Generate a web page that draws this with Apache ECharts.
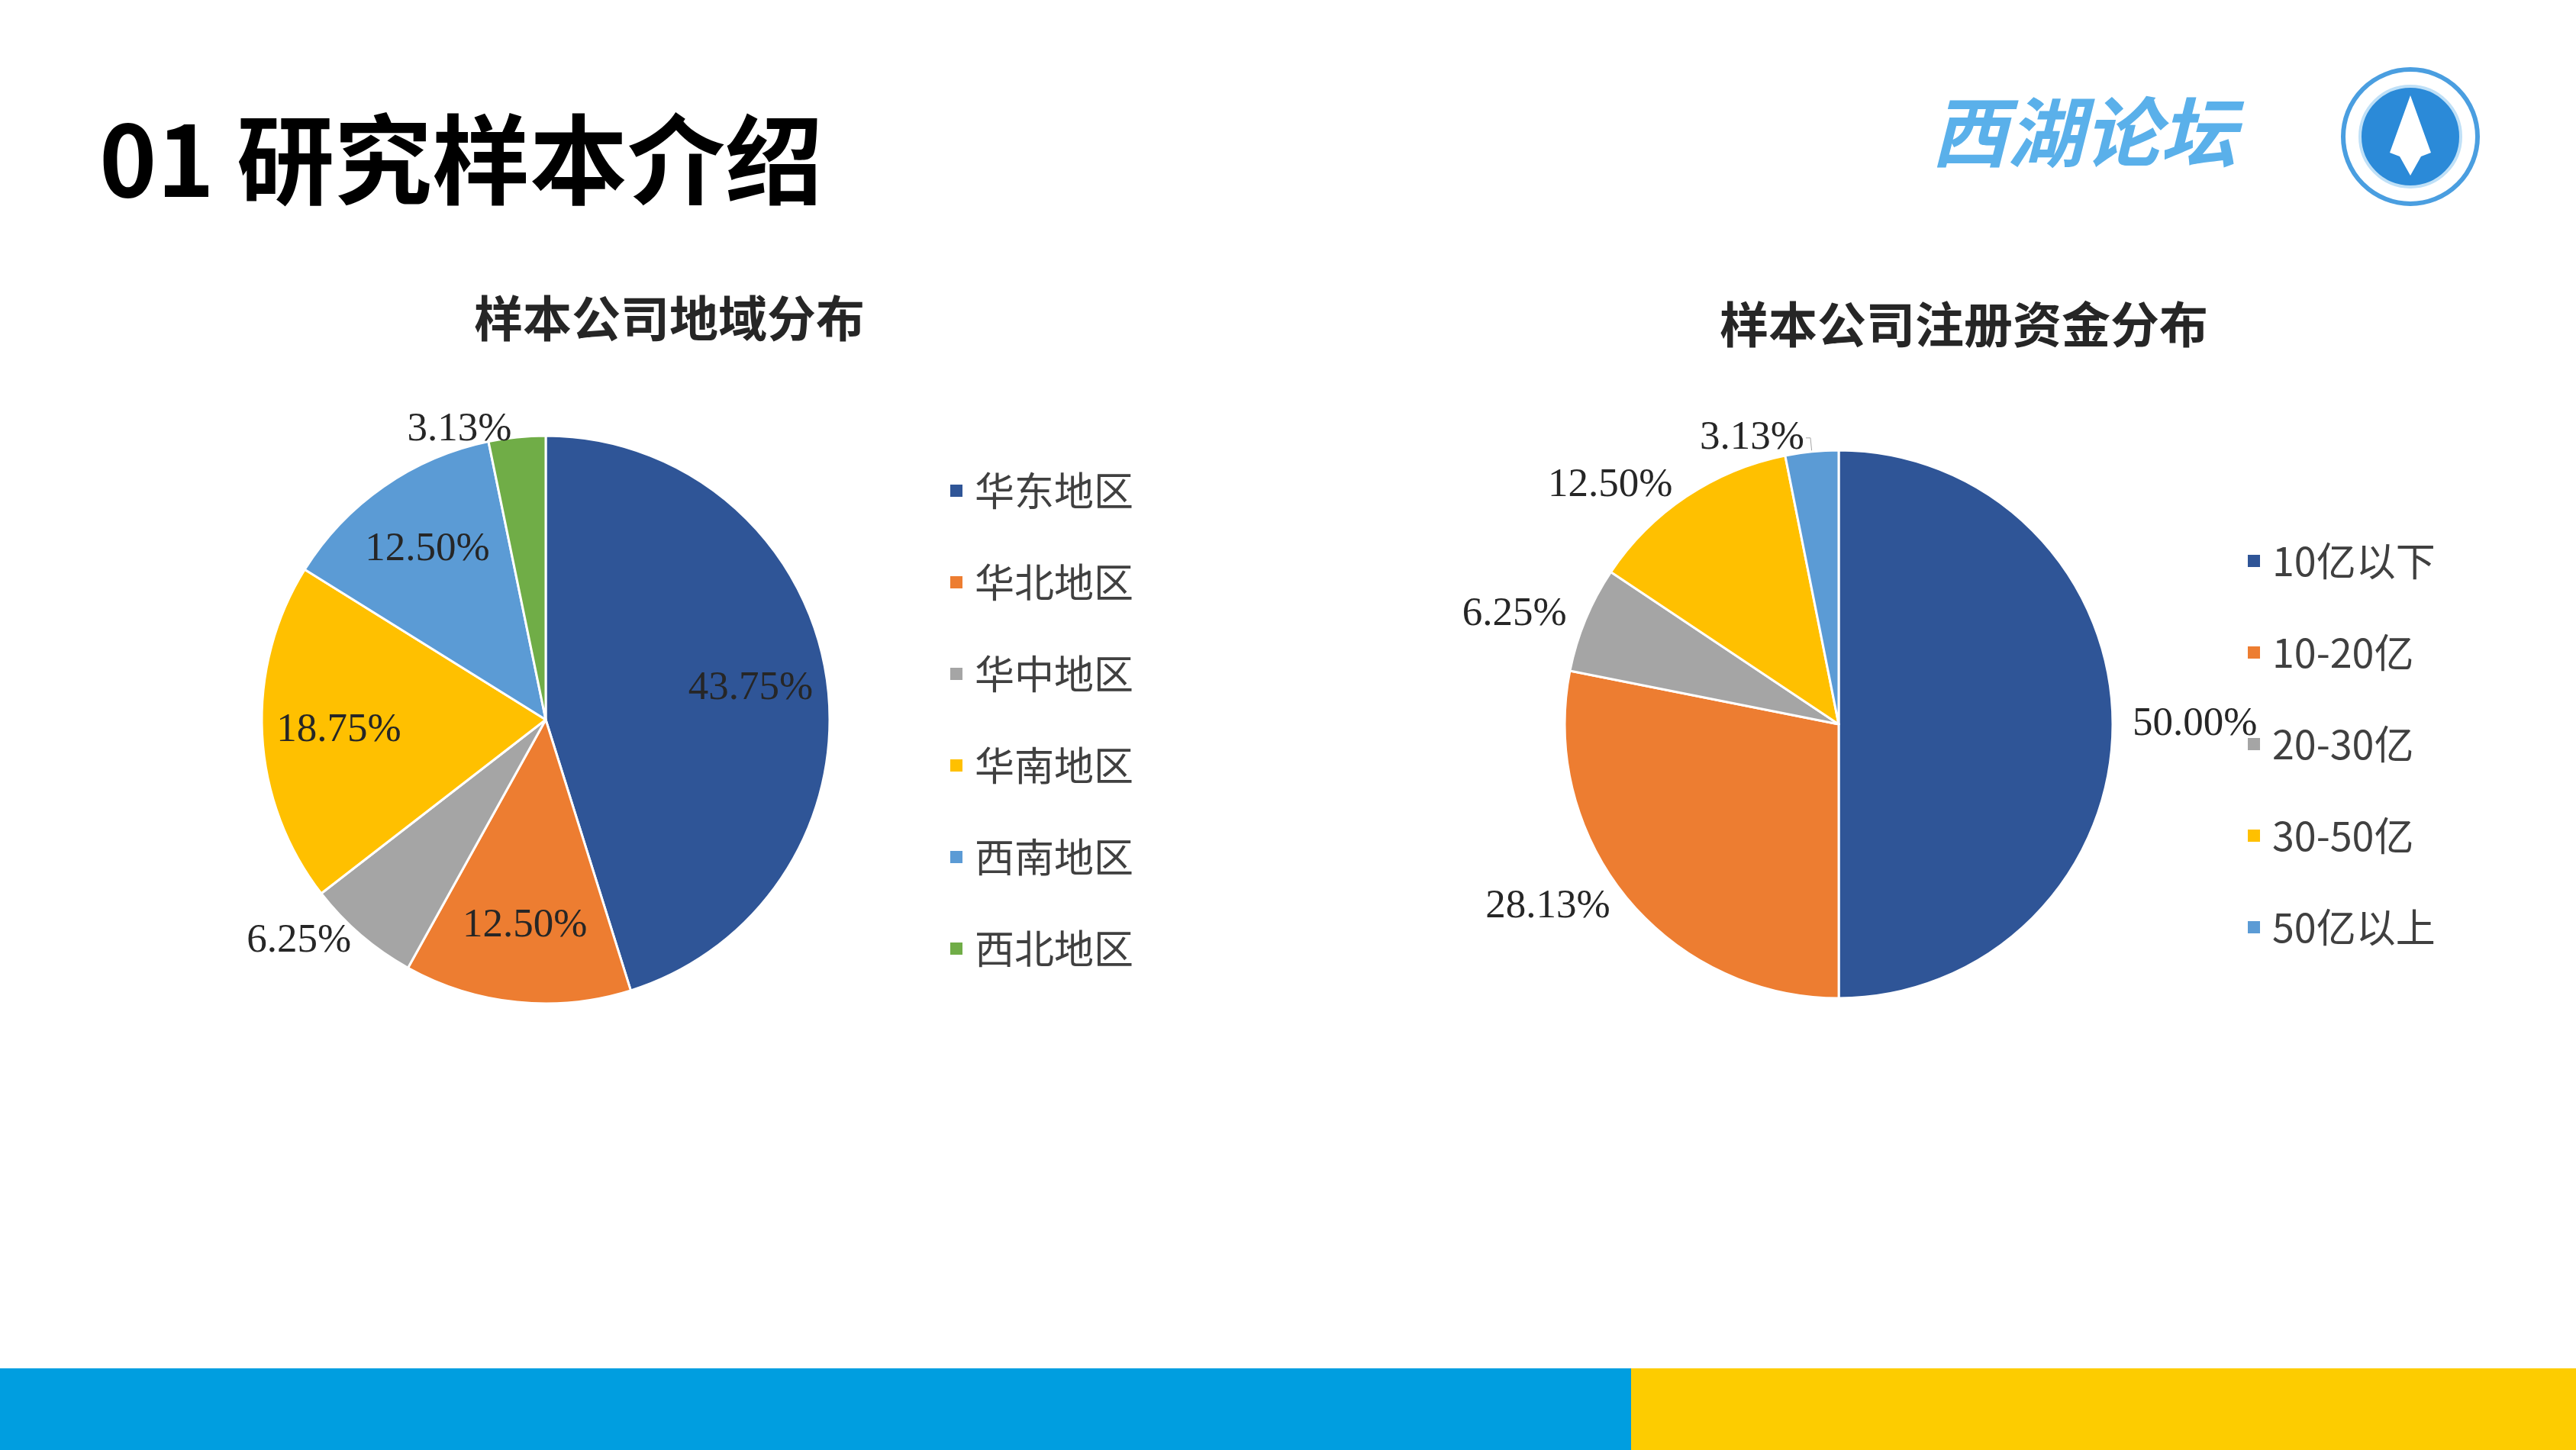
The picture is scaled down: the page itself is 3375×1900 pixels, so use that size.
<!DOCTYPE html>
<html><head><meta charset="utf-8">
<script src="https://cdn.jsdelivr.net/npm/echarts@6/dist/echarts.min.js"></script>
<style>html,body{margin:0;padding:0;background:#fff}#c{width:3375px;height:1900px}</style>
</head><body><div id="c"></div>
<script>
// 地域分布
const regionNames = ['华东地区', '华北地区', '华中地区', '华南地区', '西南地区', '西北地区'];
const regionValues = [43.75, 12.50, 6.25, 18.75, 12.50, 3.13];
const regionInside = [true, true, false, true, true, false];
// 注册资金分布
const capitalNames = ['10亿以下', '10-20亿', '20-30亿', '30-50亿', '50亿以上'];
const capitalValues = [50.00, 28.13, 6.25, 12.50, 3.13];
const colors = ['#2f5597', '#ed7d31', '#a5a5a5', '#ffc000', '#5b9bd5', '#70ad47'];

var chart = echarts.init(document.getElementById('c'));
var labelFont = { fontFamily: 'Liberation Serif', fontSize: 53, color: '#262626' };
var pct = function (p) { return p.value.toFixed(2) + '%'; };

// pie itself, only outside labels
var regionData = regionNames.map(function (n, i) {
    return { name: n, value: regionValues[i], label: { show: !regionInside[i] } };
});
// transparent ring on top, carries the inside labels further out
var regionLabelData = regionNames.map(function (n, i) {
    return { name: n, value: regionValues[i], label: { show: regionInside[i] } };
});
var capitalData = capitalNames.map(function (n, i) {
    return { name: n, value: capitalValues[i], labelLine: { show: i == 4 } };
});

var legendBase = {
    orient: 'vertical', icon: 'rect', itemWidth: 18, itemHeight: 18, itemGap: 68,
    textStyle: { fontFamily: 'Noto Sans CJK SC', fontSize: 52, color: '#404040', padding: [0, 0, 0, 10] }
};

option = {
    backgroundColor: '#ffffff',
    color: colors,
    animation: false,
    title: [
        { text: '01 研究样本介绍', left: 125, top: 140, textStyle: { fontFamily: 'Noto Sans CJK SC', fontWeight: 'bold', fontSize: 128, color: '#000' } },
        { text: '样本公司地域分布', left: 872, top: 380, textAlign: 'center', textStyle: { fontFamily: 'Noto Sans CJK SC', fontWeight: 'bold', fontSize: 64, color: '#262626' } },
        { text: '样本公司注册资金分布', left: 2568, top: 388, textAlign: 'center', textStyle: { fontFamily: 'Noto Sans CJK SC', fontWeight: 'bold', fontSize: 64, color: '#262626' } },
        { text: '西湖论坛', left: 2525, top: 118, textStyle: { fontFamily: 'Noto Sans CJK SC', fontWeight: 'bold', fontStyle: 'italic', fontSize: 100, color: '#5ab0ea' } }
    ],
    legend: [
        Object.assign({ data: regionNames, left: 1238, top: 612 }, legendBase),
        Object.assign({ data: capitalNames, left: 2938, top: 704, itemGap: 62 }, legendBase)
    ],
    graphic: [
        { type: 'rect', shape: { x: 0, y: 1793, width: 2137, height: 107 }, style: { fill: '#009ee0' } },
        { type: 'rect', shape: { x: 2137, y: 1793, width: 1238, height: 107 }, style: { fill: '#fdcc00' } },
        { type: 'circle', shape: { cx: 3158, cy: 179, r: 88 }, style: { fill: '#ffffff', stroke: '#4a9ee0', lineWidth: 6 } },
        { type: 'circle', shape: { cx: 3158, cy: 179, r: 66 }, style: { fill: '#2b8ad8', stroke: '#bfe0f7', lineWidth: 4 } },
        { type: 'polygon', shape: { points: [[3158, 125], [3185, 200], [3172, 205], [3158, 230], [3144, 205], [3131, 200]] }, style: { fill: '#ffffff' } }
    ],
    series: [{
        type: 'pie', center: [715, 943], radius: 372, startAngle: 90, clockwise: true,
        data: regionData,
        label: Object.assign({ formatter: pct, distanceToLabelLine: 0 }, labelFont),
        labelLine: { show: false, length: 10, length2: 6 },
        itemStyle: { borderColor: '#fff', borderWidth: 3 },
        emphasis: { disabled: true }
    }, {
        type: 'pie', center: [715, 943], radius: [165, 372], startAngle: 90, clockwise: true,
        data: regionLabelData, silent: true, legendHoverLink: false,
        label: Object.assign({ position: 'inside', formatter: pct }, labelFont),
        itemStyle: { color: 'rgba(0,0,0,0)' },
        emphasis: { disabled: true }
    }, {
        type: 'pie', center: [2409, 949], radius: 359, startAngle: 90, clockwise: true,
        data: capitalData,
        label: Object.assign({ formatter: pct, distanceToLabelLine: 2 }, labelFont),
        labelLine: { length: 18, length2: 6, lineStyle: { color: '#a6a6a6' } },
        itemStyle: { borderColor: '#fff', borderWidth: 3 },
        emphasis: { disabled: true }
    }]
};
chart.setOption(option);
</script></body></html>
